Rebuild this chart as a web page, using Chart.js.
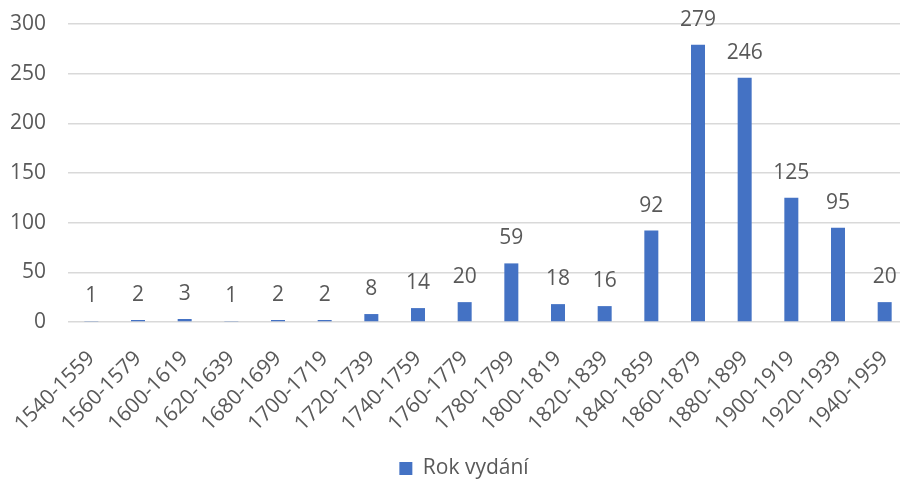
<!DOCTYPE html>
<html>
<head>
<meta charset="utf-8">
<script src="https://cdn.jsdelivr.net/npm/chart.js@4"></script>
<style>
html,body{margin:0;padding:0;background:#fff;overflow:hidden;}
#wrap{width:908px;height:489px;position:relative;}
</style>
</head>
<body>
<div id="wrap"><canvas id="c"></canvas></div>
<script>
const categories = ["1540-1559","1560-1579","1600-1619","1620-1639","1680-1699","1700-1719","1720-1739","1740-1759","1760-1779","1780-1799","1800-1819","1820-1839","1840-1859","1860-1879","1880-1899","1900-1919","1920-1939","1940-1959"];
const values = [1,2,3,1,2,2,8,14,20,59,18,16,92,279,246,125,95,20];
const seriesName = "Rok vydání";
const yTicks = [0,50,100,150,200,250,300];

const FONT = "'Open Sans', sans-serif";
const TXT = "#595959";
const FS = 21;

const labelPlugin = {
  id: 'barLabels',
  afterLayout(chart) {
    if (chart.legend) { chart.legend.left += 10; chart.legend.right += 10; }
  },
  afterDatasetsDraw(chart) {
    const ctx = chart.ctx;
    const meta = chart.getDatasetMeta(0);
    ctx.save();
    ctx.font = FS + "px " + FONT;
    ctx.fillStyle = TXT;
    ctx.textAlign = 'center';
    ctx.textBaseline = 'middle';
    meta.data.forEach((bar, i) => {
      ctx.fillText(String(values[i]), bar.x, bar.y - 25);
    });
    ctx.restore();
  }
};

new Chart(document.getElementById('c'), {
  type: 'bar',
  data: {
    labels: categories,
    datasets: [{
      label: seriesName,
      data: values,
      backgroundColor: '#4472C4',
      borderWidth: 0,
      barPercentage: 0.3,
      categoryPercentage: 1.0
    }]
  },
  plugins: [labelPlugin],
  options: {
    responsive: true,
    maintainAspectRatio: false,
    animation: false,
    layout: { padding: { top: 24, right: 0, left: 0, bottom: 0 } },
    plugins: {
      legend: {
        position: 'bottom',
        labels: {
          font: { family: FONT, size: FS },
          color: TXT,
          boxWidth: 13,
          boxHeight: 13,
          padding: 8
        }
      },
      tooltip: { enabled: false }
    },
    scales: {
      x: {
        grid: { display: false, drawTicks: false },
        border: { display: false },
        afterFit(scale) { scale.height = 128; scale.paddingLeft = 0; scale.paddingRight = 0; },
        ticks: {
          font: { family: FONT, size: FS },
          color: TXT,
          minRotation: 45,
          maxRotation: 45,
          padding: 24,
          autoSkip: false
        }
      },
      y: {
        min: 0,
        max: 300,
        afterBuildTicks(scale) { scale.ticks = yTicks.map(v => ({ value: v })); },
        afterFit(scale) { scale.width = 68; scale.paddingTop = 0; scale.paddingBottom = 0; },
        grid: { color: '#d9d9d9', lineWidth: 1.5, drawTicks: false },
        border: { display: false },
        ticks: {
          font: { family: FONT, size: FS },
          color: TXT,
          padding: 22
        }
      }
    }
  }
});
</script>
</body>
</html>
